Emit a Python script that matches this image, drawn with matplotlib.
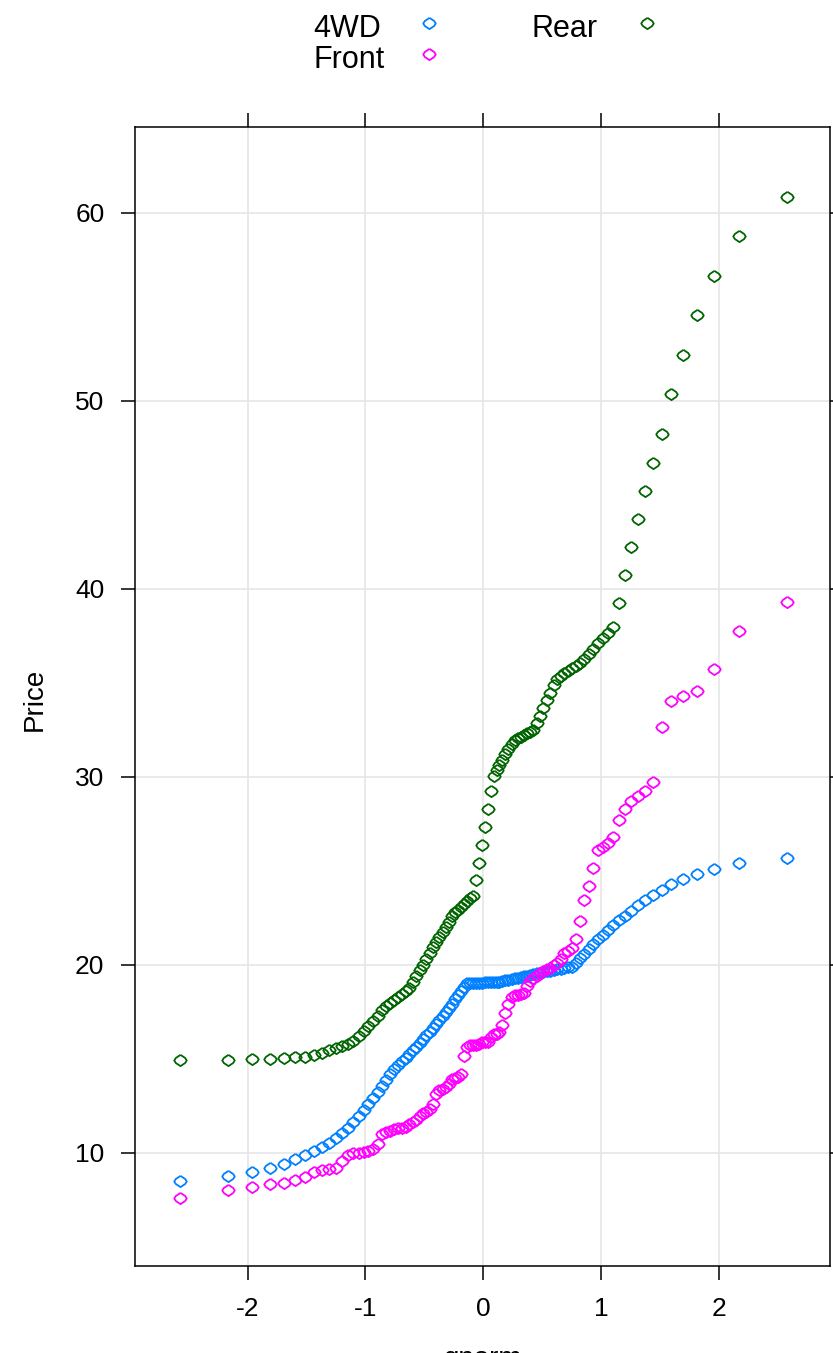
import numpy as np
import matplotlib.pyplot as plt
from matplotlib.lines import Line2D
from statistics import NormalDist

plt.rcParams['font.family'] = ['Liberation Sans', 'DejaVu Sans']
plt.rcParams['axes.unicode_minus'] = False

# Cars93 prices ($1000) split by drive train
price_4wd = [16.6, 19.0, 25.8, 19.9, 19.1, 14.4, 8.4, 10.9, 19.5, 22.7]
price_front = [15.9, 33.9, 29.1, 37.7, 15.7, 20.8, 26.3, 34.7, 40.1, 13.4,
               11.4, 15.9, 16.3, 18.4, 15.8, 29.5, 9.2, 11.3, 13.3, 15.6,
               12.2, 19.3, 7.4, 10.1, 11.3, 14.0, 20.2, 8.4, 12.5, 19.8,
               12.1, 17.5, 8.0, 10.0, 10.0, 13.9, 28.0, 34.3, 8.3, 11.6,
               16.5, 14.1, 10.3, 26.1, 11.8, 15.7, 19.1, 21.5, 13.5, 16.3,
               19.5, 20.7, 9.0, 11.1, 18.5, 24.4, 28.7, 11.1, 8.6, 9.8,
               18.4, 18.2, 9.1, 19.7, 20.0, 23.3, 26.7]
price_rear = [30.0, 23.7, 15.1, 18.8, 38.0, 15.9, 20.9, 47.9, 35.2, 36.1,
              32.5, 31.9, 61.9, 14.9, 17.7, 22.7]

groups = ['4WD', 'Front', 'Rear']
prices = [price_4wd, price_front, price_rear]
colors = ['#0080ff', '#ff00ff', '#006400']

x_ticks = [-2, -1, 0, 1, 2]
y_ticks = [10, 20, 30, 40, 50, 60]

# qqmath with f.value = ppoints(100)
n_q = 100
f_value = (np.arange(1, n_q + 1) - 0.5) / n_q
qnorm = np.array([NormalDist().inv_cdf(p) for p in f_value])

W, H = 833, 1353
fig = plt.figure(figsize=(W / 100, H / 100), dpi=100)
ax = fig.add_axes([135 / W, 1 - 1266 / H, (830 - 135) / W, (1266 - 127) / H])

# small open symbol, a bit wider than tall
sym = [(0, 0.9), (0.75, 0.4), (1, 0), (0.75, -0.4), (0, -0.9),
       (-0.75, -0.4), (-1, 0), (-0.75, 0.4), (0, 0.9)]
mk = dict(linestyle='none', marker=sym, mfc='none', ms=9.0, mew=1.3)
for g, p, c in zip(groups, prices, colors):
    ax.plot(qnorm, np.quantile(p, f_value), mec=c, **mk)

ax.set_xlim(-2.957, 2.945)
ax.set_ylim(3.97, 64.56)
ax.set_xticks(x_ticks)
ax.set_yticks(y_ticks)
ax.grid(color='#e6e6e6', lw=1.2)
ax.set_axisbelow(True)
ax.tick_params(direction='out', length=10, width=1.1, labelsize=19, pad=12,
               top=True, right=True, labeltop=False, labelright=False)
for s in ax.spines.values():
    s.set_linewidth(1.1)

fig.text(35 / W, 1 - 699 / H, 'Price', rotation=90, fontsize=20,
         ha='center', va='center')
fig.text(483 / W, 1 - 1346 / H, 'qnorm', fontsize=20, ha='center', va='top')

# key: two columns, text then symbol
key_pos = [(313, 37, 429, 23), (313, 68, 429, 54), (532, 37, 647, 23)]
for g, c, (tx, ty, mx, my) in zip(groups, colors, key_pos):
    fig.text(tx / W, 1 - ty / H, g, fontsize=22, ha='left', va='baseline')
    fig.add_artist(Line2D([mx / W], [1 - my / H], transform=fig.transFigure,
                          mec=c, **mk))

fig.savefig('out.png', dpi=100)
